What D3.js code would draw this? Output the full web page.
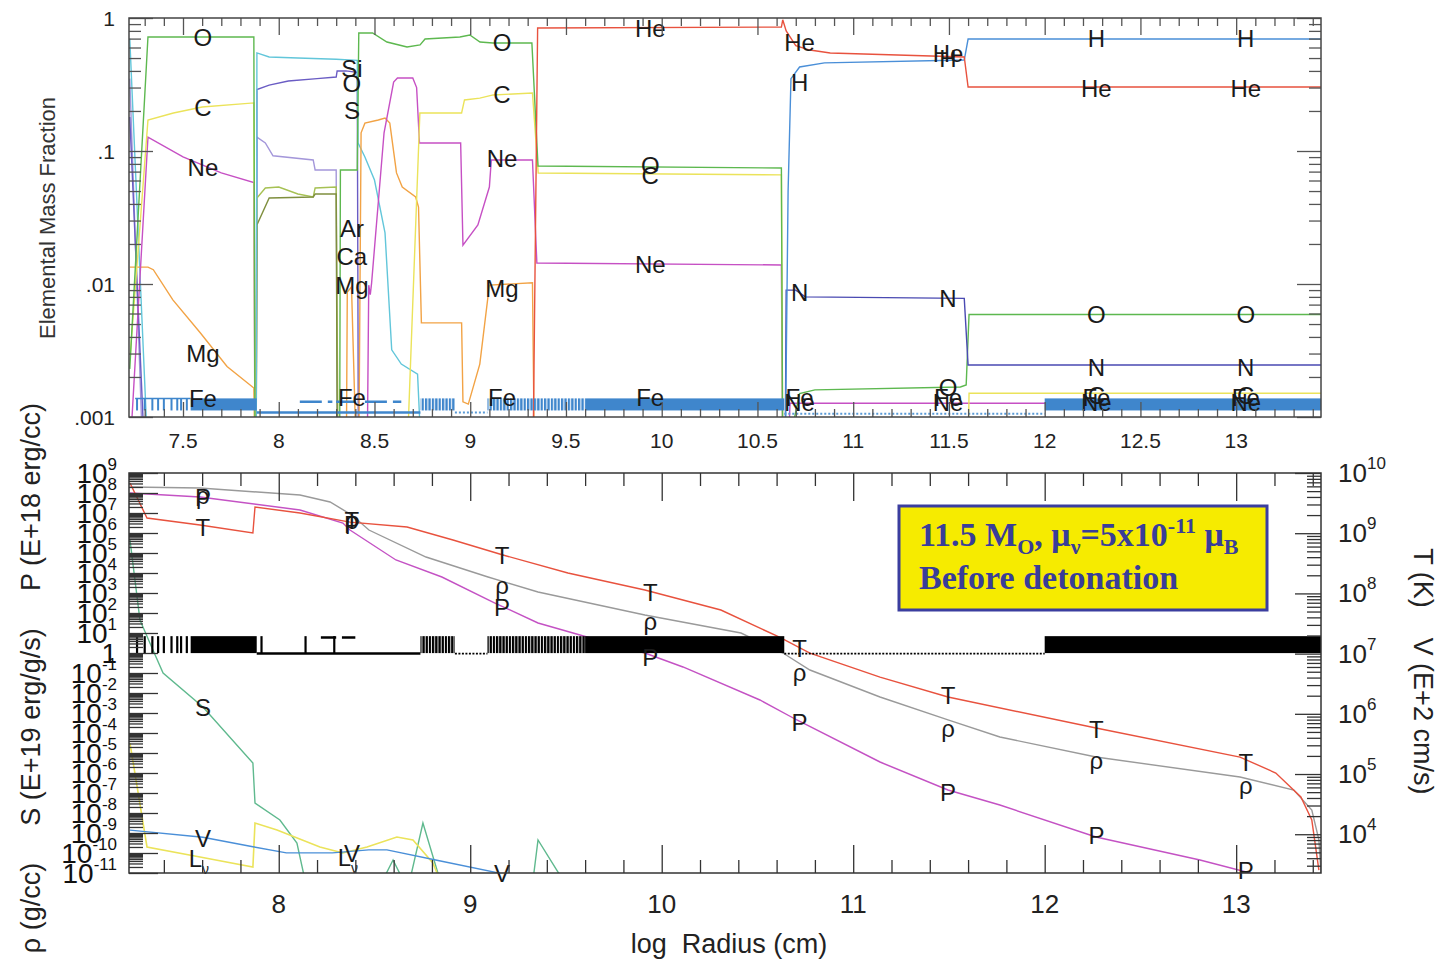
<!DOCTYPE html>
<html><head><meta charset="utf-8">
<script src="https://cdn.jsdelivr.net/npm/d3@7"></script>
<style>
body{margin:0;background:#fff}
text{font-family:"Liberation Sans",Arial,Helvetica,sans-serif}
</style>
</head><body>
<svg id="c" width="1445" height="965" xmlns="http://www.w3.org/2000/svg"></svg>
<script>
// ---------------- DATA (log Radius [cm], value) ----------------
// Top panel: elemental mass fractions (null = gap)
const elemO = [[7.222,0.0023],[7.317,0.72],[7.87,0.72],[7.876,0.0005],null,
  [8.318,0.0005],[8.322,0.072],[8.41,0.072],[8.418,0.771],[8.49,0.771],[8.565,0.66],[8.67,0.605],[8.738,0.627],[8.764,0.695],[8.946,0.72],[8.998,0.745],[9.051,0.66],[9.119,0.649],[9.322,0.649],[9.354,0.0771],[10.625,0.0745],[10.632,0.0005],null,
  [10.65,0.0005],[10.72,0.0015],[10.80,0.0016],[11.56,0.00168],[11.59,0.00174],[11.605,0.0059],[13.443,0.0059]];
const elemC = [[7.225,0.003],[7.317,0.171],[7.45,0.193],[7.60,0.214],[7.87,0.23],[7.876,0.0005],null,
  [8.67,0.0005],[8.737,0.193],[8.955,0.193],[8.97,0.242],[9.05,0.25],[9.12,0.264],[9.325,0.273],[9.355,0.0684],[10.625,0.0661],[10.632,0.0005],null,
  [11.60,0.0005],[11.605,0.00151],[13.443,0.00151]];
const elemNe = [[7.222,0.0005],[7.317,0.127],[7.50,0.0902],[7.70,0.0684],[7.87,0.058],[7.876,0.0005],null,
  [8.462,0.0005],[8.47,0.0098],[8.478,0.0083],[8.485,0.0102],[8.55,0.137],[8.60,0.33],[8.62,0.354],[8.70,0.354],[8.72,0.30],[8.735,0.115],[8.95,0.115],[8.962,0.0196],[9.04,0.0278],[9.10,0.0536],[9.11,0.0856],[9.325,0.0856],[9.348,0.0144],[10.625,0.0139],[10.632,0.0005],null,
  [10.66,0.0005],[10.67,0.00127],[13.443,0.00127]];
const elemMg = [[7.222,0.0134],[7.317,0.0134],[7.345,0.0128],[7.447,0.0076],[7.59,0.0043],[7.73,0.0024],[7.87,0.00165],[7.876,0.0005],null,
  [8.353,0.0005],[8.358,0.0087],[8.38,0.0095],[8.405,0.0005],null,
  [8.418,0.0005],[8.43,0.137],[8.45,0.162],[8.52,0.171],[8.555,0.177],[8.58,0.162],[8.615,0.0684],[8.645,0.0536],[8.715,0.0451],[8.73,0.0379],[8.745,0.0051],[8.955,0.0051],[8.962,0.0013],[8.99,0.00125],[9.05,0.0025],[9.10,0.0098],[9.325,0.0102],[9.335,0.0005]];
const elemHe = [[9.328,0.0005],[9.352,0.841],[10.625,0.855],[10.632,0.97],[10.65,0.80],[10.70,0.62],[10.774,0.574],[10.88,0.546],[11.58,0.509],[11.60,0.303],[13.443,0.303]];
const elemH = [[10.645,0.0005],[10.66,0.05],[10.675,0.35],[10.72,0.428],[10.85,0.46],[11.58,0.483],[11.60,0.695],[13.443,0.695]];
const elemN = [[10.645,0.0005],[10.65,0.009],[10.70,0.009],[10.75,0.008],[11.58,0.0078],[11.60,0.00246],[13.443,0.00246]];
const elemSi = [[7.222,0.70],[7.317,0.0005],null,
  [7.882,0.0005],[7.886,0.546],[7.95,0.509],[8.10,0.50],[8.30,0.49],[8.41,0.48],[8.414,0.115],[8.45,0.0902],[8.50,0.0605],[8.555,0.0242],[8.59,0.0032],[8.64,0.0025],[8.725,0.0021],[8.745,0.0005]];
const elemS = [[7.222,0.18],[7.30,0.0005],null,
  [7.882,0.0005],[7.886,0.29],[7.95,0.313],[8.05,0.336],[8.20,0.35],[8.30,0.36],[8.305,0.40],[8.35,0.40],[8.41,0.39],[8.416,0.0005]];
const elemAr = [[7.222,0.35],[7.29,0.0005],null,
  [7.882,0.0005],[7.886,0.127],[7.93,0.115],[7.97,0.092],[8.18,0.0856],[8.19,0.072],[8.30,0.072],[8.306,0.0005]];
const elemCa = [[7.882,0.0005],[7.886,0.0443],[7.93,0.0527],[8.0,0.0536],[8.10,0.0475],[8.18,0.0451],[8.19,0.0527],[8.30,0.0536],[8.31,0.0005]];
const elemK = [[7.882,0.0005],[7.886,0.0278],[7.95,0.0443],[8.18,0.0451],[8.19,0.0475],[8.30,0.0475],[8.306,0.0005]];
const elemFeLow = [[7.885,0.00108],[8.74,0.00108]];
const elemFeDash = [[8.11,0.0013],[8.28,0.0013],null,[8.30,0.0013],[8.40,0.0013],null,[8.45,0.0013],[8.64,0.0013]];
const elemFeDot = [[8.92,0.00108],[9.09,0.00108],null,[10.64,0.00106],[12.0,0.00106]];
// zoning structure (drawn as Fe comb on top, velocity comb on bottom)
const zoneSolid = [[7.54,7.885],[9.60,10.64],[12.0,13.443]];
const zoneHatched = [[8.74,8.92],[9.09,9.60]];
const zoneTicks = [7.26,7.30,7.34,7.37,7.40,7.44,7.47,7.49,7.52];
const zoneMarks = [7.91,8.14,8.29];
const feBand = [0.00112,0.00138];
const velBand = [1.02e7,1.95e7];
const velLine = [[7.885,1.0e7],[8.74,1.0e7]];
const velDash = [[8.22,1.85e7],[8.30,1.85e7],null,[8.33,1.85e7],[8.40,1.85e7]];
const velDot = [[8.92,1.0e7],[9.09,1.0e7],null,[10.64,1.0e7],[12.0,1.0e7]];

const topLabels = [
 [7.604,0.72,"O"],[7.604,0.214,"C"],[7.604,0.0757,"Ne"],[7.604,0.0030,"Mg"],[7.604,0.00139,"Fe"],
 [8.382,0.421,"Si"],[8.382,0.325,"O"],[8.382,0.203,"S"],[8.382,0.0263,"Ar"],[8.382,0.0162,"Ca"],[8.382,0.0098,"Mg"],[8.382,0.00141,"Fe"],
 [9.166,0.66,"O"],[9.166,0.268,"C"],[9.166,0.0886,"Ne"],[9.166,0.0093,"Mg"],[9.166,0.00141,"Fe"],
 [9.94,0.841,"He"],[9.94,0.0786,"O"],[9.94,0.0661,"C"],[9.94,0.0141,"Ne"],[9.94,0.00141,"Fe"],
 [10.72,0.66,"He"],[10.72,0.331,"H"],[10.72,0.0087,"N"],[10.72,0.00141,"Fe"],[10.72,0.00129,"Ne"],
 [11.495,0.546,"He"],[11.495,0.50,"H"],[11.495,0.0078,"N"],[11.495,0.00168,"O"],[11.495,0.00141,"Fe"],[11.495,0.00129,"Ne"],
 [12.27,0.707,"H"],[12.27,0.298,"He"],[12.27,0.0059,"O"],[12.27,0.00238,"N"],[12.27,0.00146,"C"],[12.27,0.00141,"Fe"],[12.27,0.00129,"Ne"],
 [13.05,0.707,"H"],[13.05,0.298,"He"],[13.05,0.0059,"O"],[13.05,0.00238,"N"],[13.05,0.00146,"C"],[13.05,0.00141,"Fe"],[13.05,0.00129,"Ne"]];

// Bottom panel: T and V on right axis; rho, P, S, L_nu on left axis
const profT = [[7.223,6.82e9],[7.312,1.79e9],[7.589,1.37e9],[7.865,1.01e9],[7.876,2.72e9],[8.111,2.17e9],[8.372,1.53e9],[8.67,1.27e9],[8.91,7.7e8],[9.171,4.35e8],[9.51,2.18e8],[9.912,1.14e8],[10.309,5.3e7],[10.612,1.89e7],[10.774,1.02e7],[11.14,4.08e6],[11.495,1.9e6],[12.268,5.81e5],[13.02,1.91e5],[13.207,1.04e5],[13.338,4.15e4],[13.395,1.72e4],[13.432,2.54e3]];
const profRho = [[7.223,2.0e8],[7.589,1.78e8],[8.111,7.9e7],[8.268,3.55e7],[8.382,7.9e6],[8.471,1.41e6],[8.769,6.3e4],[9.093,6.3e3],[9.354,1.12e3],[9.912,79],[10.414,10],[10.633,1],[10.774,0.141],[11.14,6.3e-3],[11.495,4.5e-4],[11.766,6.3e-5],[12.268,6.3e-6],[13.02,6.3e-7],[13.301,1.41e-7],[13.395,1.41e-8],[13.432,4.5e-10],[13.443,1e-11]];
const profP = [[7.223,1e8],[7.589,6.3e7],[8.111,1.41e7],[8.335,3.16e6],[8.372,1.41e6],[8.612,4.47e4],[8.852,6.3e3],[9.129,316],[9.354,31.6],[9.61,6.3],[9.912,1],[10.111,0.2],[10.513,4.47e-3],[10.706,4.47e-4],[11.14,3.55e-6],[11.495,1.41e-7],[11.766,2.5e-8],[12.268,6.3e-10],[12.811,4.47e-11],[13.072,1e-11],[13.176,4.47e-12]];
const profS = [[7.223,4.5e5],[7.275,45],[7.343,1.41],[7.396,0.1],[7.604,2e-3],[7.865,3.16e-6],[7.876,3.16e-8],[8.006,4.47e-9],[8.095,3.16e-10],[8.137,4.47e-12],null,
  [8.544,4.47e-12],[8.597,4.47e-11],[8.649,4.47e-12],null,[8.685,4.47e-12],[8.753,3.16e-9],[8.842,4.47e-12],null,[9.328,4.47e-12],[9.354,4.47e-10],[9.484,4.47e-12]];
const profL = [[7.223,3.16e-5],[7.312,2e-10],[7.589,6.3e-11],[7.865,2e-11],[7.876,3.16e-9],[7.991,1.41e-9],[8.215,2e-10],[8.335,1e-10],[8.461,2e-10],[8.617,6.3e-10],[8.701,4.47e-10],[8.805,3.16e-11],[8.842,4.47e-12]];
const profV = [[7.223,1.17e4],[7.604,8.9e3],[7.865,6.2e3],[8.04,4.9e3],[8.28,4.9e3],[8.47,5.5e3],[8.565,5.5e3],[8.826,3.7e3],[9.14,2.3e3],[9.208,1.86e3]];

const botLabels = [
 [7.604,7.9e7,"ρ","L"],[7.604,6.3e7,"P","L"],[7.604,1.27e9,"T","R"],
 [8.382,1.66e9,"T","R"],[8.382,2.8e6,"P","L"],[8.382,4.5e6,"ρ","L"],
 [9.166,4.35e8,"T","R"],[9.166,2.5e3,"ρ","L"],[9.166,200,"P","L"],
 [9.94,1.05e8,"T","R"],[9.94,40,"ρ","L"],[9.94,0.63,"P","L"],
 [10.72,1.24e7,"T","R"],[10.72,0.112,"ρ","L"],[10.72,3.5e-4,"P","L"],
 [11.495,2.05e6,"T","R"],[11.495,1.78e-4,"ρ","L"],[11.495,1.12e-7,"P","L"],
 [12.27,5.6e5,"T","R"],[12.27,4.5e-6,"ρ","L"],[12.27,7.9e-10,"P","L"],
 [13.05,1.58e5,"T","R"],[13.05,2.5e-7,"ρ","L"],[13.05,1.41e-11,"P","L"],
 [7.604,2e-3,"S","L"],[7.604,8.6e3,"V","R"],[8.382,4.9e3,"V","R"],[9.166,2.26e3,"V","R"]];
const lnuLabels = [[7.604,5.6e-11],[8.382,6.3e-11]];

const topXTicks = [7.5,8,8.5,9,9.5,10,10.5,11,11.5,12,12.5,13];
const botXTicks = [8,9,10,11,12,13];
const topYTicks = [[1,"1"],[0.1,".1"],[0.01,".01"],[0.001,".001"]];
const leftExp = d3.range(9,-12,-1);
const rightExp = [10,9,8,7,6,5,4];

// ---------------- SCALES ----------------
const svg = d3.select("#c");
const x = d3.scaleLinear().domain([7.218,13.443]).range([129,1321]);
const yTop = d3.scaleLog().domain([0.001,1]).range([417,18]);
const yL = d3.scaleLog().domain([1e-11,1e9]).range([873,473]);
const yR = d3.scaleLog().domain([Math.pow(10,3.356),1e10]).range([873,473]);
const X0=129,X1=1321;

const defs = svg.append("defs");
defs.append("clipPath").attr("id","clipT").append("rect").attr("x",X0).attr("y",yTop(1)).attr("width",X1-X0).attr("height",yTop(0.001)-yTop(1));
defs.append("clipPath").attr("id","clipB").append("rect").attr("x",X0).attr("y",473).attr("width",X1-X0).attr("height",400);
const pB = defs.append("pattern").attr("id","hatchB").attr("width",3.4).attr("height",20).attr("patternUnits","userSpaceOnUse");
pB.append("rect").attr("width",2.3).attr("height",20).attr("fill","#3f86cc");
const pK = defs.append("pattern").attr("id","hatchK").attr("width",3.2).attr("height",20).attr("patternUnits","userSpaceOnUse");
pK.append("rect").attr("width",2.3).attr("height",20).attr("fill","#000");

// ---------------- TOP PANEL ----------------
const gT = svg.append("g").attr("clip-path","url(#clipT)");
const lineT = d3.line().defined(d=>d!==null).x(d=>x(d[0])).y(d=>yTop(d[1]));
const topSeries = [
 {d:elemAr,c:"#a497da"},{d:elemS,c:"#6a5cc4"},{d:elemCa,c:"#a6c153"},{d:elemK,c:"#7f8f3e"},
 {d:elemSi,c:"#62c6da"},{d:elemMg,c:"#f2a345"},{d:elemNe,c:"#c650c4"},{d:elemC,c:"#ebe35a"},
 {d:elemO,c:"#5db84f"},{d:elemN,c:"#4a4ab2"},{d:elemH,c:"#4a8fd8"},{d:elemHe,c:"#e8523e"}];
gT.selectAll("path.s").data(topSeries).join("path").attr("class","s")
  .attr("d",s=>lineT(s.d)).attr("fill","none").attr("stroke",s=>s.c).attr("stroke-width",1.4);
// Fe / zoning comb
gT.selectAll("rect.zs").data(zoneSolid).join("rect").attr("class","zs")
  .attr("x",d=>x(d[0])).attr("width",d=>x(d[1])-x(d[0])).attr("y",yTop(feBand[1])).attr("height",yTop(feBand[0])-yTop(feBand[1])).attr("fill","#3f86cc");
gT.selectAll("rect.zh").data(zoneHatched).join("rect").attr("class","zh")
  .attr("x",d=>x(d[0])).attr("width",d=>x(d[1])-x(d[0])).attr("y",yTop(feBand[1])).attr("height",yTop(feBand[0])-yTop(feBand[1])).attr("fill","url(#hatchB)");
gT.selectAll("line.zt").data(zoneTicks).join("line").attr("class","zt")
  .attr("x1",d=>x(d)).attr("x2",d=>x(d)).attr("y1",yTop(feBand[1])).attr("y2",yTop(feBand[0])).attr("stroke","#3f86cc").attr("stroke-width",2);
gT.append("path").attr("d",lineT([[7.25,feBand[1]],[7.54,feBand[1]]])).attr("stroke","#3f86cc").attr("stroke-width",1.5).attr("fill","none");
gT.append("path").attr("d",lineT(elemFeLow)).attr("stroke","#3f86cc").attr("stroke-width",2.5).attr("fill","none");
gT.append("path").attr("d",lineT(elemFeDash)).attr("stroke","#3f86cc").attr("stroke-width",2.5).attr("stroke-dasharray","22,6").attr("fill","none");
gT.append("path").attr("d",lineT(elemFeDot)).attr("stroke","#5a9ad6").attr("stroke-width",2).attr("stroke-dasharray","2,2").attr("fill","none");

// labels
svg.append("g").selectAll("text").data(topLabels).join("text")
  .attr("x",d=>x(d[0])).attr("y",d=>yTop(d[1])).attr("dy","0.36em").attr("text-anchor","middle")
  .attr("font-size",24).attr("fill","#1a1a1a").text(d=>d[2]);

// top axes
function strip(g){g.select(".domain").remove();}
const tc="#555";
const topMinorX = d3.range(73,135).map(v=>v/10).filter(v=>Math.abs(v*2-Math.round(v*2))>1e-6);
svg.append("g").attr("transform","translate(0,18)").call(d3.axisBottom(x).tickValues(topMinorX).tickSize(8).tickFormat("")).call(strip);
svg.append("g").attr("transform","translate(0,18)").call(d3.axisBottom(x).tickValues(topXTicks).tickSize(17).tickFormat("")).call(strip);
svg.append("g").attr("transform","translate(0,417)").call(d3.axisTop(x).tickValues(topMinorX).tickSize(8).tickFormat("")).call(strip);
svg.append("g").attr("transform","translate(0,417)").call(d3.axisTop(x).tickValues(topXTicks).tickSize(15).tickFormat("")).call(strip);
const topMinorY = yTop.ticks().filter(v=>Math.abs(Math.log10(v)-Math.round(Math.log10(v)))>1e-6);
const topMajorY = topYTicks.map(d=>d[0]);
svg.append("g").attr("transform","translate(129,0)").call(d3.axisRight(yTop).tickValues(topMinorY).tickSize(12).tickFormat("")).call(strip);
svg.append("g").attr("transform","translate(129,0)").call(d3.axisRight(yTop).tickValues(topMajorY).tickSize(24).tickFormat("")).call(strip);
svg.append("g").attr("transform","translate(1321,0)").call(d3.axisLeft(yTop).tickValues(topMinorY).tickSize(12).tickFormat("")).call(strip);
svg.append("g").attr("transform","translate(1321,0)").call(d3.axisLeft(yTop).tickValues(topMajorY).tickSize(24).tickFormat("")).call(strip);
svg.append("rect").attr("x",X0).attr("y",18).attr("width",X1-X0).attr("height",399).attr("fill","none").attr("stroke","#444").attr("stroke-width",1.5);
svg.selectAll(".tick line").attr("stroke",tc).attr("stroke-width",1.3);

svg.append("g").selectAll("text").data(topXTicks).join("text")
  .attr("x",d=>x(d)).attr("y",448).attr("text-anchor","middle").attr("font-size",21).attr("fill","#222").text(d=>d);
svg.append("g").selectAll("text").data(topYTicks).join("text")
  .attr("x",115).attr("y",d=>yTop(d[0])+7.5).attr("text-anchor","end").attr("font-size",21).attr("fill","#222").text(d=>d[1]);
svg.append("text").attr("transform","translate(55,218) rotate(-90)").attr("text-anchor","middle")
  .attr("font-size",22).attr("fill","#333").text("Elemental Mass Fraction");

// ---------------- BOTTOM PANEL ----------------
const gB = svg.append("g").attr("clip-path","url(#clipB)");
const lineL = d3.line().defined(d=>d!==null).x(d=>x(d[0])).y(d=>yL(d[1]));
const lineR = d3.line().defined(d=>d!==null).x(d=>x(d[0])).y(d=>yR(d[1]));
gB.append("path").attr("d",lineL(profS)).attr("stroke","#5fb98e").attr("stroke-width",1.4).attr("fill","none");
gB.append("path").attr("d",lineL(profL)).attr("stroke","#ebe35a").attr("stroke-width",1.6).attr("fill","none");
gB.append("path").attr("d",lineR(profV)).attr("stroke","#4a8fd8").attr("stroke-width",1.4).attr("fill","none");
gB.append("path").attr("d",lineL(profRho)).attr("stroke","#9a9a9a").attr("stroke-width",1.4).attr("fill","none");
gB.append("path").attr("d",lineL(profP)).attr("stroke","#c452c4").attr("stroke-width",1.4).attr("fill","none");
gB.append("path").attr("d",lineR(profT)).attr("stroke","#e8523e").attr("stroke-width",1.4).attr("fill","none");
// velocity / zoning comb
gB.selectAll("rect.zs").data(zoneSolid).join("rect").attr("class","zs")
  .attr("x",d=>x(d[0])).attr("width",d=>x(d[1])-x(d[0])).attr("y",yR(velBand[1])).attr("height",yR(velBand[0])-yR(velBand[1])).attr("fill","#000");
gB.selectAll("rect.zh").data(zoneHatched).join("rect").attr("class","zh")
  .attr("x",d=>x(d[0])).attr("width",d=>x(d[1])-x(d[0])).attr("y",yR(velBand[1])).attr("height",yR(velBand[0])-yR(velBand[1])).attr("fill","url(#hatchK)");
gB.selectAll("line.zt").data(zoneTicks.concat(zoneMarks)).join("line").attr("class","zt")
  .attr("x1",d=>x(d)).attr("x2",d=>x(d)).attr("y1",yR(velBand[1])).attr("y2",yR(velBand[0])).attr("stroke","#000").attr("stroke-width",2.2);
gB.append("path").attr("d",lineR(velLine)).attr("stroke","#000").attr("stroke-width",2.5).attr("fill","none");
gB.append("path").attr("d",lineR(velDash)).attr("stroke","#000").attr("stroke-width",2.5).attr("fill","none");
gB.append("path").attr("d",lineR(velDot)).attr("stroke","#000").attr("stroke-width",1.6).attr("stroke-dasharray","2,1.5").attr("fill","none");

// bottom labels
svg.append("g").selectAll("text").data(botLabels).join("text")
  .attr("x",d=>x(d[0])).attr("y",d=>(d[3]==="L"?yL(d[1]):yR(d[1]))).attr("dy","0.36em").attr("text-anchor","middle")
  .attr("font-size",24).attr("fill","#1a1a1a").text(d=>d[2]);
const ln = svg.append("g").selectAll("text").data(lnuLabels).join("text")
  .attr("x",d=>x(d[0])-4).attr("y",d=>yL(d[1])).attr("dy","0.36em").attr("text-anchor","middle").attr("font-size",24).attr("fill","#1a1a1a");
ln.append("tspan").text("L");
ln.append("tspan").attr("dy",7).attr("font-size",14).text("ν");

// bottom axes
const botMinorX = d3.range(37,68).map(v=>v/5).filter(v=>Math.abs(v-Math.round(v))>1e-6);
const gax = svg.append("g");
gax.append("g").attr("transform","translate(0,473)").call(d3.axisBottom(x).tickValues(botMinorX).tickSize(13).tickFormat("")).call(strip);
gax.append("g").attr("transform","translate(0,473)").call(d3.axisBottom(x).tickValues(botXTicks).tickSize(28).tickFormat("")).call(strip);
gax.append("g").attr("transform","translate(0,873)").call(d3.axisTop(x).tickValues(botMinorX).tickSize(13).tickFormat("")).call(strip);
gax.append("g").attr("transform","translate(0,873)").call(d3.axisTop(x).tickValues(botXTicks).tickSize(28).tickFormat("")).call(strip);
const leftMajor = leftExp.map(k=>Math.pow(10,k));
const leftMinor = [];
d3.range(-11,9).forEach(k=>{for(let m=2;m<=9;m++) leftMinor.push(m*Math.pow(10,k));});
gax.append("g").attr("transform","translate(129,0)").call(d3.axisRight(yL).tickValues(leftMinor).tickSize(14).tickFormat("")).call(strip);
gax.append("g").attr("transform","translate(129,0)").call(d3.axisRight(yL).tickValues(leftMajor).tickSize(29).tickFormat("")).call(strip);
const rightMajor = rightExp.map(k=>Math.pow(10,k));
const rightMinor = [];
d3.range(3,10).forEach(k=>{for(let m=2;m<=9;m++){const v=m*Math.pow(10,k); if(v>=yR.domain()[0]) rightMinor.push(v);}});
gax.append("g").attr("transform","translate(1321,0)").call(d3.axisLeft(yR).tickValues(rightMinor).tickSize(14).tickFormat("")).call(strip);
gax.append("g").attr("transform","translate(1321,0)").call(d3.axisLeft(yR).tickValues(rightMajor).tickSize(26).tickFormat("")).call(strip);
gax.selectAll(".tick line").attr("stroke","#333").attr("stroke-width",1.3);
svg.append("rect").attr("x",X0).attr("y",473).attr("width",X1-X0).attr("height",400).attr("fill","none").attr("stroke","#333").attr("stroke-width",1.5);

svg.append("g").selectAll("text").data(botXTicks).join("text")
  .attr("x",d=>x(d)).attr("y",913).attr("text-anchor","middle").attr("font-size",26).attr("fill","#222").text(d=>d);
svg.append("text").attr("x",729).attr("y",953).attr("text-anchor","middle").attr("font-size",27).attr("fill","#222")
  .style("white-space","pre").text("log  Radius (cm)");

// left exponent labels
const ll = svg.append("g").selectAll("text").data(leftExp).join("text")
  .attr("x",117).attr("y",k=>yL(Math.pow(10,k))+10).attr("text-anchor","end").attr("font-size",28).attr("fill","#111");
ll.each(function(k){
  const t=d3.select(this);
  if(k===0){t.text("1");return;}
  t.append("tspan").text("10");
  t.append("tspan").attr("dy",-13).attr("font-size",17).text(k);
});
// right exponent labels
const rl = svg.append("g").selectAll("text").data(rightExp).join("text")
  .attr("x",1338).attr("y",k=>yR(Math.pow(10,k))+9).attr("font-size",26).attr("fill","#222");
rl.append("tspan").text("10");
rl.append("tspan").attr("dy",-13).attr("font-size",17).text(k=>k);

// axis titles
svg.append("text").attr("transform","translate(40,497) rotate(-90)").attr("text-anchor","middle").attr("font-size",27).attr("fill","#222").text("P (E+18 erg/cc)");
svg.append("text").attr("transform","translate(40,727) rotate(-90)").attr("text-anchor","middle").attr("font-size",27).attr("fill","#222").text("S (E+19 erg/g/s)");
svg.append("text").attr("transform","translate(40,908) rotate(-90)").attr("text-anchor","middle").attr("font-size",27).attr("fill","#222").text("ρ (g/cc)");
svg.append("text").attr("transform","translate(1414,578) rotate(90)").attr("text-anchor","middle").attr("font-size",27).attr("fill","#222").text("T (K)");
svg.append("text").attr("transform","translate(1414,716) rotate(90)").attr("text-anchor","middle").attr("font-size",27).attr("fill","#222").text("V (E+2 cm/s)");

// annotation box
svg.append("rect").attr("x",899).attr("y",506).attr("width",368).attr("height",104).attr("fill","#f6eb00").attr("stroke","#3b3e9f").attr("stroke-width",3);
const ann = svg.append("text").attr("x",919).attr("y",546).attr("font-size",34).attr("font-weight","bold")
  .attr("fill","#393d99").style("font-family","'Liberation Serif','Times New Roman',serif");
ann.append("tspan").text("11.5 M");
ann.append("tspan").attr("dy",8).attr("font-size",22).text("O");
ann.append("tspan").attr("dy",-8).text(", μ");
ann.append("tspan").attr("dy",8).attr("font-size",22).text("ν");
ann.append("tspan").attr("dy",-8).text("=5x10");
ann.append("tspan").attr("dy",-13).attr("font-size",22).text("-11");
ann.append("tspan").attr("dy",13).text(" μ");
ann.append("tspan").attr("dy",8).attr("font-size",22).text("B");
svg.append("text").attr("x",919).attr("y",589).attr("font-size",34).attr("font-weight","bold")
  .attr("fill","#393d99").style("font-family","'Liberation Serif','Times New Roman',serif").text("Before detonation");
</script>
</body></html>
